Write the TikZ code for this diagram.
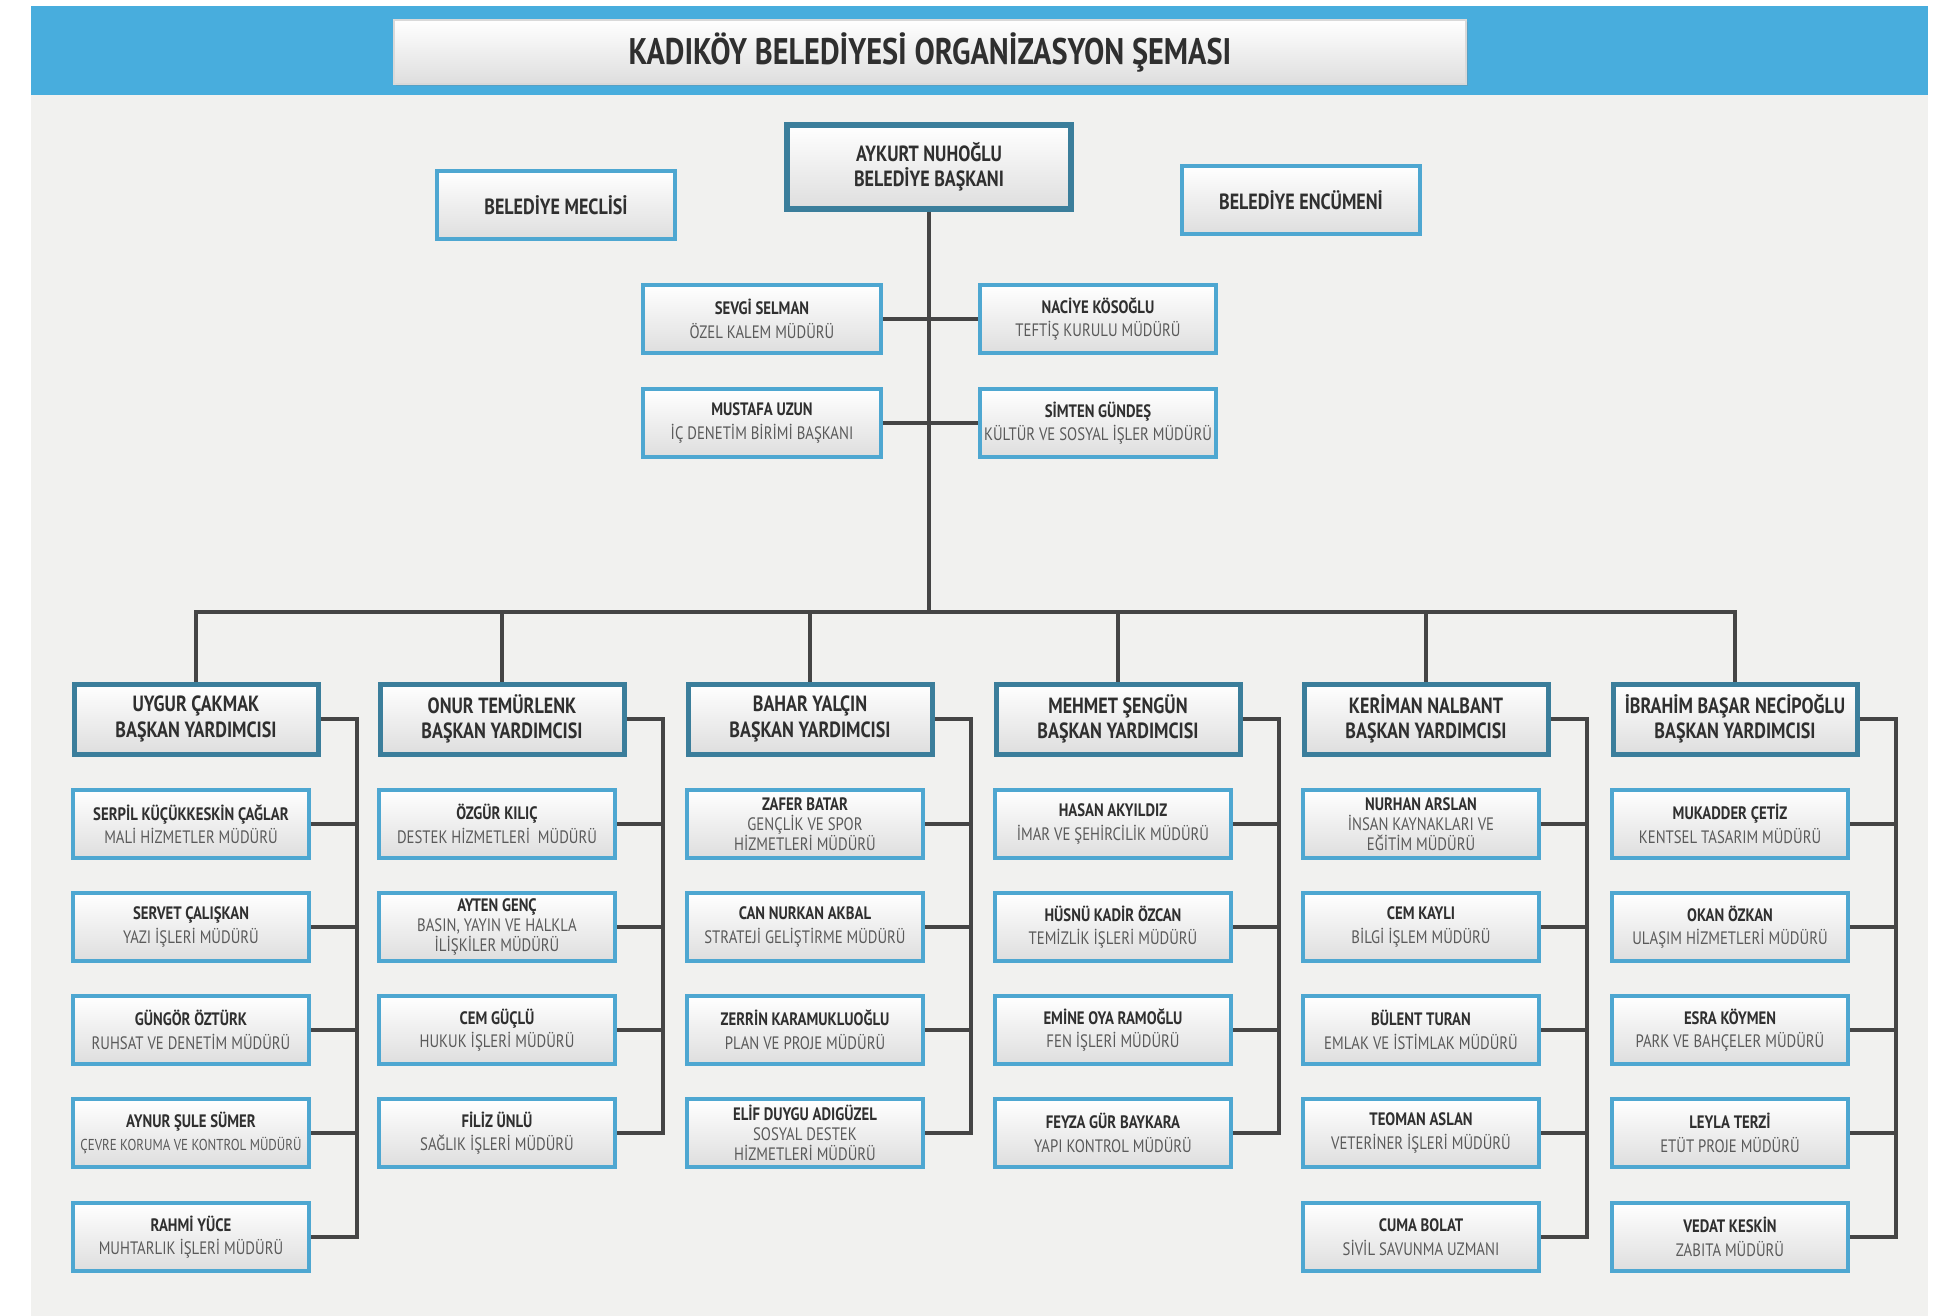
\documentclass[tikz,border=0pt]{standalone}
\usepackage{fontspec}
\setmainfont{PT Sans}[FakeStretch=0.82]
\usepackage{tikz}
\usetikzlibrary{shadows}
\definecolor{bandblue}{HTML}{48ADDD}
\definecolor{bggray}{HTML}{F1F1EF}
\definecolor{dirblue}{HTML}{4EA7D1}
\definecolor{depblue}{HTML}{3B7E9B}
\definecolor{linegray}{HTML}{454545}
\definecolor{namegray}{HTML}{2F2F2F}
\definecolor{titlegray}{HTML}{5A5A5A}
\newcommand{\who}[1]{{\bfseries\color{namegray}#1}}

\begin{document}
\begin{tikzpicture}[x=0.5pt,y=0.5pt]
\tikzstyle{every node}+=[inner sep=1pt]
\tikzstyle{box}=[rectangle, align=center, top color=white, bottom color=black!13, drop shadow={opacity=0.25,shadow xshift=1pt,shadow yshift=-1.2pt}]
\tikzstyle{dirbox}=[box, draw=dirblue, line width=2pt, minimum width=118pt, minimum height=34pt, text=titlegray, font=\fontsize{9}{11.8}\selectfont]
\tikzstyle{dirbox3}=[dirbox, font=\fontsize{9}{9.9}\selectfont]
\tikzstyle{depbox}=[box, draw=depblue, line width=2.5pt, minimum width=122pt, minimum height=35pt, text=namegray, font=\fontsize{11}{12.6}\selectfont\bfseries]
\tikzstyle{conn}=[linegray, line width=2.2pt]
\useasboundingbox (0,0) rectangle (1949,-1316);
\fill[bggray] (31,-95) rectangle (1928,-1316);
\fill[bandblue] (31,-6) rectangle (1928,-95);
% top of the chart
\node[box, draw=black!15, line width=0.6pt, minimum width=536pt, minimum height=32pt, text=namegray, font=\fontsize{18.5}{20}\selectfont\bfseries] (title) at (930,-52) {KADIKÖY BELEDİYESİ ORGANİZASYON ŞEMASI};
\node[depbox, line width=3pt, minimum width=142pt, minimum height=42pt] (baskan) at (929,-167) {AYKURT NUHOĞLU\\BELEDİYE BAŞKANI};
\node[dirbox, minimum width=119pt, text=namegray, font=\fontsize{11}{12}\selectfont\bfseries] (meclis) at (556,-205) {BELEDİYE MECLİSİ};
\node[dirbox, minimum width=119pt, text=namegray, font=\fontsize{11}{12}\selectfont\bfseries] (encumen) at (1301,-200) {BELEDİYE ENCÜMENİ};
\node[dirbox, minimum width=119pt] (sevgi) at (762,-319) {\who{SEVGİ SELMAN}\\ÖZEL KALEM MÜDÜRÜ};
\node[dirbox] (naciye) at (1098,-319) {\who{NACİYE KÖSOĞLU}\\TEFTİŞ KURULU MÜDÜRÜ};
\node[dirbox, minimum width=119pt] (mustafa) at (762,-423) {\who{MUSTAFA UZUN}\\İÇ DENETİM BİRİMİ BAŞKANI};
\node[dirbox] (simten) at (1098,-423) {\who{SİMTEN GÜNDEŞ}\\KÜLTÜR VE SOSYAL İŞLER MÜDÜRÜ};
\coordinate (hub) at (929,-612);
\draw[conn] (baskan.south) -- (hub);
\draw[conn] (sevgi.east) -- (naciye.west);
\draw[conn] (mustafa.east) -- (simten.west);
% deputies
\node[depbox] (uygur) at (196,-719) {UYGUR ÇAKMAK\\BAŞKAN YARDIMCISI};
\node[depbox] (onur) at (502,-719) {ONUR TEMÜRLENK\\BAŞKAN YARDIMCISI};
\node[depbox] (bahar) at (810,-719) {BAHAR YALÇIN\\BAŞKAN YARDIMCISI};
\node[depbox] (mehmet) at (1118,-719) {MEHMET ŞENGÜN\\BAŞKAN YARDIMCISI};
\node[depbox] (keriman) at (1426,-719) {KERİMAN NALBANT\\BAŞKAN YARDIMCISI};
\node[depbox] (ibrahim) at (1735,-719) {İBRAHİM BAŞAR NECİPOĞLU\\BAŞKAN YARDIMCISI};
\draw[conn] (uygur.north) |- (hub) -| (ibrahim.north);
\draw[conn] (onur.north) -- (onur.north |- hub);
\draw[conn] (bahar.north) -- (bahar.north |- hub);
\draw[conn] (mehmet.north) -- (mehmet.north |- hub);
\draw[conn] (keriman.north) -- (keriman.north |- hub);
% directors
\node[dirbox] (serpil) at (191,-824) {\who{SERPİL KÜÇÜKKESKİN ÇAĞLAR}\\MALİ HİZMETLER MÜDÜRÜ};
\node[dirbox] (servet) at (191,-927) {\who{SERVET ÇALIŞKAN}\\YAZI İŞLERİ MÜDÜRÜ};
\node[dirbox] (gungor) at (191,-1030) {\who{GÜNGÖR ÖZTÜRK}\\RUHSAT VE DENETİM MÜDÜRÜ};
\node[dirbox] (aynur) at (191,-1133) {\who{AYNUR ŞULE SÜMER}\\{\fontsize{7.9}{9}\selectfont ÇEVRE KORUMA VE KONTROL MÜDÜRÜ}};
\node[dirbox] (rahmi) at (191,-1237) {\who{RAHMİ YÜCE}\\MUHTARLIK İŞLERİ MÜDÜRÜ};
\node[dirbox] (ozgur) at (497,-824) {\who{ÖZGÜR KILIÇ}\\DESTEK HİZMETLERİ\ \ MÜDÜRÜ};
\node[dirbox3] (ayten) at (497,-927) {\who{AYTEN GENÇ}\\BASIN, YAYIN VE HALKLA\\İLİŞKİLER MÜDÜRÜ};
\node[dirbox] (cem) at (497,-1030) {\who{CEM GÜÇLÜ}\\HUKUK İŞLERİ MÜDÜRÜ};
\node[dirbox] (filiz) at (497,-1133) {\who{FİLİZ ÜNLÜ}\\SAĞLIK İŞLERİ MÜDÜRÜ};
\node[dirbox3] (zafer) at (805,-824) {\who{ZAFER BATAR}\\GENÇLİK VE SPOR\\HİZMETLERİ MÜDÜRÜ};
\node[dirbox] (can) at (805,-927) {\who{CAN NURKAN AKBAL}\\STRATEJİ GELİŞTİRME MÜDÜRÜ};
\node[dirbox] (zerrin) at (805,-1030) {\who{ZERRİN KARAMUKLUOĞLU}\\PLAN VE PROJE MÜDÜRÜ};
\node[dirbox3] (elif) at (805,-1133) {\who{ELİF DUYGU ADIGÜZEL}\\SOSYAL DESTEK\\HİZMETLERİ MÜDÜRÜ};
\node[dirbox] (hasan) at (1113,-824) {\who{HASAN AKYILDIZ}\\İMAR VE ŞEHİRCİLİK MÜDÜRÜ};
\node[dirbox] (husnu) at (1113,-927) {\who{HÜSNÜ KADİR ÖZCAN}\\TEMİZLİK İŞLERİ MÜDÜRÜ};
\node[dirbox] (emine) at (1113,-1030) {\who{EMİNE OYA RAMOĞLU}\\FEN İŞLERİ MÜDÜRÜ};
\node[dirbox] (feyza) at (1113,-1133) {\who{FEYZA GÜR BAYKARA}\\YAPI KONTROL MÜDÜRÜ};
\node[dirbox3] (nurhan) at (1421,-824) {\who{NURHAN ARSLAN}\\İNSAN KAYNAKLARI VE\\EĞİTİM MÜDÜRÜ};
\node[dirbox] (cemk) at (1421,-927) {\who{CEM KAYLI}\\BİLGİ İŞLEM MÜDÜRÜ};
\node[dirbox] (bulent) at (1421,-1030) {\who{BÜLENT TURAN}\\EMLAK VE İSTİMLAK MÜDÜRÜ};
\node[dirbox] (teoman) at (1421,-1133) {\who{TEOMAN ASLAN}\\VETERİNER İŞLERİ MÜDÜRÜ};
\node[dirbox] (cuma) at (1421,-1237) {\who{CUMA BOLAT}\\SİVİL SAVUNMA UZMANI};
\node[dirbox] (mukadder) at (1730,-824) {\who{MUKADDER ÇETİZ}\\KENTSEL TASARIM MÜDÜRÜ};
\node[dirbox] (okan) at (1730,-927) {\who{OKAN ÖZKAN}\\ULAŞIM HİZMETLERİ MÜDÜRÜ};
\node[dirbox] (esra) at (1730,-1030) {\who{ESRA KÖYMEN}\\PARK VE BAHÇELER MÜDÜRÜ};
\node[dirbox] (leyla) at (1730,-1133) {\who{LEYLA TERZİ}\\ETÜT PROJE MÜDÜRÜ};
\node[dirbox] (vedat) at (1730,-1237) {\who{VEDAT KESKİN}\\ZABITA MÜDÜRÜ};
% side lines
\coordinate (ub) at (357,-719);
\coordinate (ob) at (663,-719);
\coordinate (bb) at (971,-719);
\coordinate (mb) at (1279,-719);
\coordinate (kb) at (1587,-719);
\coordinate (ib) at (1896,-719);
\draw[conn] (uygur.east) -- (ub) |- (rahmi.east);
\draw[conn] (serpil.east) -- (serpil.east -| ub);
\draw[conn] (servet.east) -- (servet.east -| ub);
\draw[conn] (gungor.east) -- (gungor.east -| ub);
\draw[conn] (aynur.east) -- (aynur.east -| ub);
\draw[conn] (onur.east) -- (ob) |- (filiz.east);
\draw[conn] (ozgur.east) -- (ozgur.east -| ob);
\draw[conn] (ayten.east) -- (ayten.east -| ob);
\draw[conn] (cem.east) -- (cem.east -| ob);
\draw[conn] (bahar.east) -- (bb) |- (elif.east);
\draw[conn] (zafer.east) -- (zafer.east -| bb);
\draw[conn] (can.east) -- (can.east -| bb);
\draw[conn] (zerrin.east) -- (zerrin.east -| bb);
\draw[conn] (mehmet.east) -- (mb) |- (feyza.east);
\draw[conn] (hasan.east) -- (hasan.east -| mb);
\draw[conn] (husnu.east) -- (husnu.east -| mb);
\draw[conn] (emine.east) -- (emine.east -| mb);
\draw[conn] (keriman.east) -- (kb) |- (cuma.east);
\draw[conn] (nurhan.east) -- (nurhan.east -| kb);
\draw[conn] (cemk.east) -- (cemk.east -| kb);
\draw[conn] (bulent.east) -- (bulent.east -| kb);
\draw[conn] (teoman.east) -- (teoman.east -| kb);
\draw[conn] (ibrahim.east) -- (ib) |- (vedat.east);
\draw[conn] (mukadder.east) -- (mukadder.east -| ib);
\draw[conn] (okan.east) -- (okan.east -| ib);
\draw[conn] (esra.east) -- (esra.east -| ib);
\draw[conn] (leyla.east) -- (leyla.east -| ib);
\end{tikzpicture}
\end{document}
